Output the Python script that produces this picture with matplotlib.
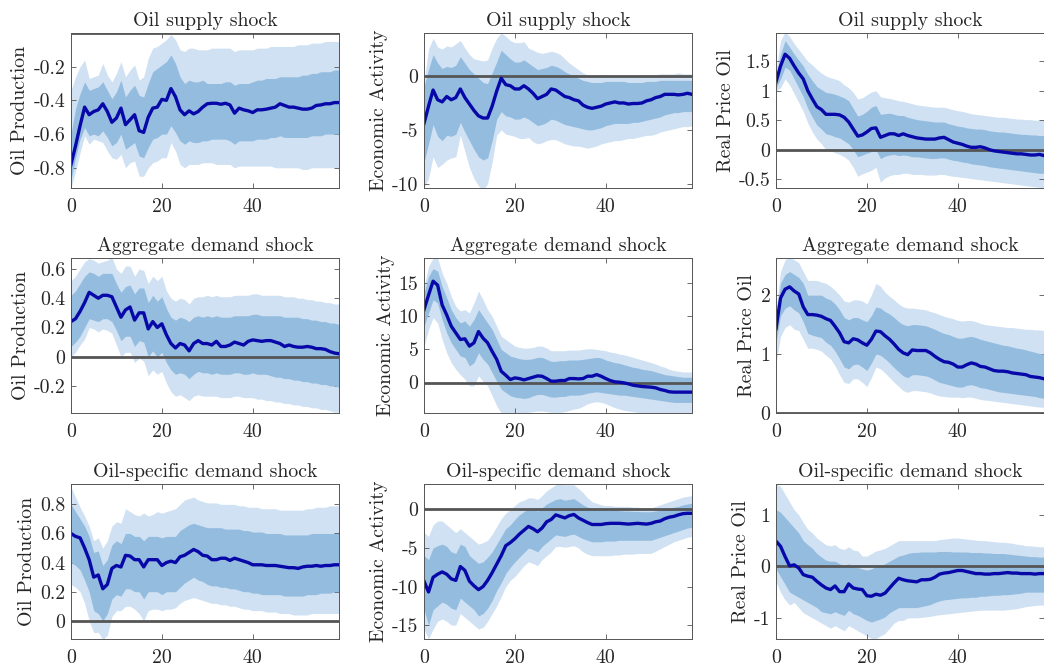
import numpy as np
import matplotlib
matplotlib.use("Agg")
import matplotlib.pyplot as plt
from matplotlib.ticker import FuncFormatter

plt.rcParams["font.family"] = "cmr10"
plt.rcParams["mathtext.fontset"] = "cm"
plt.rcParams["axes.unicode_minus"] = False

horizon = np.arange(60)

shocks = ["Oil supply shock", "Aggregate demand shock", "Oil-specific demand shock"]
variables = ["Oil Production", "Economic Activity", "Real Price Oil"]

# ---- Oil supply shock -> Oil Production
sup_prod_med = [-0.78, -0.67, -0.55, -0.44, -0.485, -0.466, -0.456, -0.42, -0.466, -0.53,
                -0.505, -0.446, -0.544, -0.515, -0.485, -0.58, -0.59, -0.50, -0.446, -0.44,
                -0.394, -0.40, -0.33, -0.378, -0.456, -0.485, -0.462, -0.48, -0.466, -0.44,
                -0.42, -0.417, -0.417, -0.423, -0.417, -0.427, -0.476, -0.446, -0.456, -0.462,
                -0.472, -0.456, -0.456, -0.452, -0.446, -0.44, -0.42, -0.43, -0.44, -0.44,
                -0.446, -0.452, -0.452, -0.446, -0.43, -0.427, -0.42, -0.42, -0.413, -0.413]
sup_prod_in_hi = [-0.60, -0.45, -0.36, -0.29, -0.34, -0.33, -0.32, -0.29, -0.34, -0.39,
                  -0.35, -0.28, -0.38, -0.34, -0.31, -0.37, -0.38, -0.30, -0.23, -0.21,
                  -0.19, -0.17, -0.13, -0.18, -0.26, -0.30, -0.28, -0.29, -0.29, -0.28,
                  -0.30, -0.30, -0.30, -0.30, -0.29, -0.29, -0.31, -0.30, -0.30, -0.30,
                  -0.29, -0.28, -0.28, -0.27, -0.27, -0.27, -0.26, -0.26, -0.26, -0.26,
                  -0.26, -0.25, -0.25, -0.24, -0.24, -0.23, -0.23, -0.23, -0.22, -0.22]
sup_prod_in_lo = [-0.87, -0.74, -0.63, -0.56, -0.61, -0.60, -0.61, -0.58, -0.62, -0.67,
                  -0.65, -0.60, -0.69, -0.67, -0.65, -0.73, -0.74, -0.68, -0.63, -0.62,
                  -0.60, -0.60, -0.55, -0.59, -0.64, -0.66, -0.64, -0.65, -0.65, -0.64,
                  -0.64, -0.63, -0.63, -0.63, -0.63, -0.64, -0.66, -0.64, -0.64, -0.64,
                  -0.64, -0.63, -0.63, -0.63, -0.62, -0.62, -0.61, -0.62, -0.62, -0.62,
                  -0.62, -0.62, -0.62, -0.61, -0.61, -0.61, -0.60, -0.60, -0.60, -0.60]
sup_prod_out_hi = [-0.34, -0.26, -0.20, -0.16, -0.27, -0.26, -0.25, -0.18, -0.25, -0.29,
                   -0.24, -0.17, -0.26, -0.22, -0.19, -0.28, -0.26, -0.15, -0.09, -0.08,
                   -0.06, -0.04, -0.01, -0.04, -0.10, -0.11, -0.09, -0.09, -0.10, -0.10,
                   -0.10, -0.09, -0.09, -0.09, -0.09, -0.09, -0.11, -0.10, -0.10, -0.10,
                   -0.10, -0.09, -0.09, -0.09, -0.08, -0.08, -0.08, -0.08, -0.08, -0.08,
                   -0.07, -0.07, -0.07, -0.06, -0.06, -0.06, -0.05, -0.05, -0.05, -0.05]
sup_prod_out_lo = [-0.92, -0.82, -0.71, -0.61, -0.66, -0.63, -0.64, -0.65, -0.70, -0.74,
                   -0.75, -0.72, -0.80, -0.77, -0.76, -0.85, -0.85, -0.80, -0.77, -0.76,
                   -0.74, -0.74, -0.65, -0.70, -0.78, -0.80, -0.78, -0.78, -0.78, -0.77,
                   -0.77, -0.77, -0.78, -0.78, -0.78, -0.78, -0.80, -0.79, -0.79, -0.79,
                   -0.79, -0.79, -0.79, -0.79, -0.79, -0.80, -0.80, -0.80, -0.80, -0.80,
                   -0.80, -0.81, -0.81, -0.80, -0.80, -0.80, -0.80, -0.80, -0.80, -0.80]

# ---- Oil supply shock -> Economic Activity
sup_act_med = [-4.4, -2.8, -1.3, -2.2, -2.4, -1.9, -2.2, -2.0, -1.2, -2.0,
               -2.6, -3.2, -3.7, -3.9, -3.9, -2.8, -1.4, -0.2, -0.8, -0.9,
               -1.2, -1.2, -0.9, -1.2, -1.6, -2.1, -1.9, -1.7, -1.2, -1.3,
               -1.6, -1.9, -2.0, -2.2, -2.3, -2.7, -2.9, -3.0, -2.9, -2.8,
               -2.6, -2.5, -2.4, -2.5, -2.5, -2.6, -2.55, -2.55, -2.5, -2.3,
               -2.2, -2.0, -1.9, -1.7, -1.7, -1.7, -1.75, -1.7, -1.6, -1.7]
sup_act_in_hi = [-1.0, 0.6, 2.0, 1.2, 0.7, 0.9, 0.8, 1.0, 1.8, 1.2,
                 0.6, 0.2, -0.2, -0.6, -0.7, 0.3, 1.3, 2.4, 2.0, 1.6,
                 1.3, 1.3, 1.5, 1.2, 0.9, 0.6, 0.7, 0.8, 1.0, 0.9,
                 0.7, 0.4, 0.2, 0.0, -0.2, -0.4, -0.5, -0.6, -0.6, -0.6,
                 -0.5, -0.5, -0.5, -0.5, -0.5, -0.6, -0.6, -0.6, -0.6, -0.5,
                 -0.5, -0.5, -0.4, -0.4, -0.4, -0.4, -0.4, -0.4, -0.4, -0.4]
sup_act_in_lo = [-8.0, -6.3, -4.5, -5.6, -6.0, -5.5, -5.6, -5.4, -4.3, -5.2,
                 -6.0, -6.8, -7.5, -7.8, -7.6, -6.0, -4.0, -3.3, -3.7, -3.8,
                 -4.0, -4.0, -3.8, -4.0, -4.3, -4.6, -4.5, -4.3, -4.0, -4.1,
                 -4.3, -4.5, -4.6, -4.7, -4.8, -4.9, -5.0, -5.0, -4.9, -4.8,
                 -4.6, -4.5, -4.4, -4.4, -4.4, -4.4, -4.3, -4.3, -4.2, -4.1,
                 -4.0, -3.9, -3.8, -3.6, -3.5, -3.4, -3.4, -3.3, -3.3, -3.3]
sup_act_out_hi = [-0.5, 2.5, 3.5, 2.7, 2.5, 2.8, 2.7, 3.0, 3.3, 2.6,
                  2.0, 1.6, 1.5, 1.4, 1.5, 2.6, 3.5, 4.0, 3.7, 3.3,
                  3.1, 3.1, 3.2, 2.6, 2.4, 2.2, 2.1, 2.2, 2.3, 2.2,
                  2.0, 1.6, 1.2, 0.9, 0.6, 0.3, 0.1, 0.0, 0.0, 0.1,
                  0.1, 0.1, 0.0, 0.0, 0.0, 0.0, 0.0, 0.1, 0.1, 0.1,
                  0.1, 0.1, 0.2, 0.2, 0.2, 0.2, 0.3, 0.2, 0.2, 0.2]
sup_act_out_lo = [-10.4, -9.5, -7.5, -8.5, -8.2, -7.8, -7.6, -7.5, -5.5, -7.0,
                  -8.5, -9.5, -10.2, -10.6, -10.0, -8.0, -5.5, -5.0, -5.4, -5.5,
                  -5.6, -5.8, -5.8, -5.7, -6.1, -6.3, -6.2, -6.0, -5.9, -5.9,
                  -6.1, -6.3, -6.4, -6.5, -6.5, -6.6, -6.7, -6.6, -6.5, -6.3,
                  -6.2, -6.1, -6.0, -6.0, -5.9, -5.8, -5.8, -5.7, -5.6, -5.5,
                  -5.5, -5.4, -5.2, -5.1, -5.0, -4.9, -4.8, -4.7, -4.7, -4.6]

# ---- Oil supply shock -> Real Price Oil
sup_price_med = [1.15, 1.42, 1.62, 1.55, 1.42, 1.30, 1.20, 1.00, 0.86, 0.73,
                 0.68, 0.60, 0.60, 0.60, 0.59, 0.55, 0.47, 0.35, 0.23, 0.25,
                 0.30, 0.36, 0.37, 0.21, 0.24, 0.27, 0.27, 0.24, 0.27, 0.24,
                 0.22, 0.20, 0.19, 0.18, 0.18, 0.18, 0.20, 0.21, 0.17, 0.13,
                 0.11, 0.09, 0.06, 0.04, 0.04, 0.05, 0.03, 0.00, -0.02, -0.03,
                 -0.04, -0.05, -0.06, -0.07, -0.07, -0.08, -0.09, -0.09, -0.08, -0.10]
sup_price_in_hi = [1.25, 1.62, 1.85, 1.74, 1.62, 1.52, 1.42, 1.28, 1.17, 1.07,
                   1.02, 0.97, 0.96, 0.94, 0.91, 0.88, 0.83, 0.70, 0.57, 0.60,
                   0.65, 0.72, 0.75, 0.60, 0.61, 0.62, 0.60, 0.58, 0.58, 0.55,
                   0.53, 0.51, 0.50, 0.49, 0.48, 0.47, 0.47, 0.47, 0.44, 0.42,
                   0.40, 0.39, 0.37, 0.36, 0.35, 0.35, 0.34, 0.32, 0.31, 0.30,
                   0.30, 0.29, 0.28, 0.27, 0.26, 0.26, 0.25, 0.25, 0.24, 0.24]
sup_price_in_lo = [1.05, 1.20, 1.40, 1.35, 1.20, 1.05, 0.90, 0.70, 0.55, 0.42,
                   0.35, 0.27, 0.25, 0.22, 0.20, 0.15, 0.10, 0.00, -0.12, -0.09,
                   -0.06, -0.03, 0.00, -0.15, -0.11, -0.09, -0.08, -0.10, -0.09, -0.10,
                   -0.12, -0.12, -0.13, -0.14, -0.15, -0.15, -0.14, -0.14, -0.16, -0.18,
                   -0.19, -0.21, -0.22, -0.24, -0.25, -0.26, -0.27, -0.29, -0.30, -0.31,
                   -0.32, -0.33, -0.34, -0.35, -0.36, -0.37, -0.38, -0.39, -0.40, -0.40]
sup_price_out_hi = [1.35, 1.85, 2.00, 1.92, 1.80, 1.70, 1.60, 1.50, 1.44, 1.36,
                    1.30, 1.25, 1.22, 1.20, 1.17, 1.10, 1.05, 0.97, 0.86, 0.88,
                    0.93, 0.98, 1.00, 0.90, 0.88, 0.87, 0.85, 0.83, 0.82, 0.80,
                    0.78, 0.76, 0.75, 0.74, 0.73, 0.72, 0.72, 0.72, 0.70, 0.68,
                    0.66, 0.65, 0.63, 0.61, 0.60, 0.59, 0.58, 0.57, 0.56, 0.55,
                    0.55, 0.54, 0.53, 0.52, 0.52, 0.51, 0.51, 0.50, 0.50, 0.50]
sup_price_out_lo = [1.00, 1.05, 1.20, 1.10, 0.95, 0.80, 0.65, 0.45, 0.30, 0.18,
                    0.10, 0.00, -0.02, -0.05, -0.08, -0.12, -0.18, -0.30, -0.45, -0.41,
                    -0.38, -0.35, -0.30, -0.55, -0.48, -0.44, -0.42, -0.42, -0.40, -0.40,
                    -0.42, -0.42, -0.42, -0.43, -0.43, -0.43, -0.42, -0.42, -0.44, -0.45,
                    -0.46, -0.47, -0.48, -0.49, -0.50, -0.51, -0.52, -0.53, -0.54, -0.55,
                    -0.56, -0.57, -0.58, -0.59, -0.60, -0.61, -0.62, -0.63, -0.64, -0.65]

# ---- Aggregate demand shock -> Oil Production
agg_prod_med = [0.24, 0.26, 0.31, 0.37, 0.44, 0.42, 0.40, 0.42, 0.42, 0.41,
                0.34, 0.27, 0.32, 0.34, 0.25, 0.30, 0.30, 0.19, 0.24, 0.20,
                0.225, 0.15, 0.09, 0.06, 0.09, 0.08, 0.04, 0.09, 0.11, 0.09,
                0.09, 0.08, 0.105, 0.07, 0.07, 0.08, 0.10, 0.09, 0.08, 0.105,
                0.115, 0.11, 0.105, 0.11, 0.11, 0.10, 0.09, 0.07, 0.08, 0.07,
                0.065, 0.065, 0.07, 0.065, 0.055, 0.055, 0.05, 0.035, 0.025, 0.02]
agg_prod_in_hi = [0.42, 0.45, 0.50, 0.55, 0.58, 0.57, 0.55, 0.57, 0.57, 0.57,
                  0.50, 0.44, 0.48, 0.49, 0.43, 0.47, 0.47, 0.37, 0.42, 0.38,
                  0.41, 0.33, 0.27, 0.25, 0.27, 0.26, 0.24, 0.27, 0.28, 0.27,
                  0.28, 0.27, 0.28, 0.27, 0.27, 0.27, 0.28, 0.28, 0.28, 0.28,
                  0.29, 0.29, 0.28, 0.28, 0.28, 0.28, 0.28, 0.27, 0.27, 0.27,
                  0.27, 0.26, 0.26, 0.25, 0.25, 0.24, 0.24, 0.23, 0.23, 0.22]
agg_prod_in_lo = [0.07, 0.10, 0.14, 0.20, 0.26, 0.25, 0.24, 0.26, 0.26, 0.24,
                  0.18, 0.11, 0.14, 0.14, 0.07, 0.11, 0.10, 0.00, 0.04, 0.00,
                  0.03, -0.04, -0.09, -0.12, -0.11, -0.12, -0.15, -0.12, -0.10, -0.11,
                  -0.11, -0.12, -0.11, -0.12, -0.12, -0.12, -0.11, -0.11, -0.12, -0.12,
                  -0.11, -0.12, -0.12, -0.12, -0.13, -0.14, -0.14, -0.15, -0.15, -0.16,
                  -0.16, -0.17, -0.17, -0.18, -0.18, -0.19, -0.19, -0.20, -0.20, -0.21]
agg_prod_out_hi = [0.52, 0.55, 0.60, 0.65, 0.67, 0.66, 0.64, 0.65, 0.66, 0.68,
                   0.60, 0.57, 0.62, 0.62, 0.55, 0.60, 0.59, 0.50, 0.55, 0.52,
                   0.55, 0.45, 0.40, 0.38, 0.40, 0.39, 0.36, 0.40, 0.41, 0.41,
                   0.42, 0.41, 0.42, 0.41, 0.41, 0.41, 0.42, 0.42, 0.42, 0.42,
                   0.43, 0.43, 0.42, 0.42, 0.42, 0.42, 0.42, 0.41, 0.41, 0.41,
                   0.40, 0.40, 0.39, 0.39, 0.38, 0.38, 0.37, 0.37, 0.36, 0.36]
agg_prod_out_lo = [0.00, 0.03, 0.08, 0.12, 0.20, 0.19, 0.17, 0.19, 0.18, 0.16,
                   0.08, 0.00, 0.03, 0.03, -0.04, -0.01, -0.03, -0.13, -0.09, -0.12,
                   -0.10, -0.18, -0.24, -0.27, -0.26, -0.28, -0.30, -0.27, -0.26, -0.27,
                   -0.27, -0.27, -0.27, -0.28, -0.28, -0.28, -0.27, -0.27, -0.28, -0.28,
                   -0.28, -0.29, -0.29, -0.30, -0.30, -0.31, -0.31, -0.32, -0.32, -0.33,
                   -0.33, -0.34, -0.34, -0.35, -0.35, -0.36, -0.36, -0.37, -0.38, -0.38]

# ---- Aggregate demand shock -> Economic Activity
agg_act_med = [11.0, 13.2, 15.3, 14.7, 11.7, 10.2, 8.5, 7.5, 6.5, 6.6,
               5.5, 6.0, 7.7, 6.7, 6.0, 4.7, 3.5, 1.7, 1.1, 0.45,
               0.7, 0.6, 0.4, 0.6, 0.8, 1.0, 0.95, 0.6, 0.2, 0.2,
               0.3, 0.3, 0.6, 0.6, 0.55, 0.6, 0.95, 0.95, 1.2, 0.95,
               0.6, 0.3, 0.1, 0.05, -0.05, -0.2, -0.4, -0.5, -0.6, -0.65,
               -0.7, -0.8, -1.05, -1.2, -1.4, -1.45, -1.45, -1.45, -1.45, -1.45]
agg_act_in_hi = [13.5, 16.0, 17.2, 16.8, 14.5, 12.8, 11.0, 9.8, 9.0, 9.3,
                 8.5, 9.5, 11.0, 10.0, 9.0, 8.0, 6.5, 5.0, 4.5, 4.0,
                 3.8, 3.6, 3.5, 3.5, 3.6, 3.8, 3.8, 3.5, 3.2, 3.2,
                 3.3, 3.3, 3.4, 3.4, 3.4, 3.5, 3.6, 3.7, 3.8, 3.7,
                 3.4, 3.2, 3.0, 2.9, 2.7, 2.5, 2.3, 2.2, 2.0, 1.9,
                 1.8, 1.6, 1.4, 1.2, 1.1, 1.0, 0.9, 0.8, 0.8, 0.8]
agg_act_in_lo = [8.5, 10.5, 12.5, 12.0, 9.5, 7.5, 6.0, 5.0, 4.0, 3.8,
                 2.5, 3.0, 4.5, 3.5, 2.8, 1.5, 0.2, -1.0, -1.5, -2.0,
                 -2.2, -2.3, -2.4, -2.3, -2.0, -1.8, -1.8, -2.0, -2.2, -2.2,
                 -2.1, -2.1, -1.9, -1.9, -1.9, -1.8, -1.6, -1.5, -1.4, -1.5,
                 -1.6, -1.7, -1.8, -1.9, -1.9, -2.0, -2.1, -2.2, -2.3, -2.4,
                 -2.5, -2.6, -2.7, -2.8, -2.9, -3.0, -3.0, -3.0, -3.0, -3.0]
agg_act_out_hi = [14.5, 17.5, 18.8, 18.8, 16.5, 15.0, 13.0, 11.5, 10.8, 11.0,
                  10.5, 12.0, 13.8, 12.5, 11.0, 10.0, 8.5, 7.0, 6.5, 6.0,
                  5.5, 5.3, 5.2, 5.2, 5.3, 5.5, 5.5, 5.2, 4.8, 4.8,
                  4.8, 4.8, 4.9, 4.9, 4.9, 5.0, 5.1, 5.1, 5.0, 4.9,
                  4.8, 4.6, 4.5, 4.3, 4.2, 4.0, 3.8, 3.6, 3.4, 3.2,
                  3.0, 2.8, 2.5, 2.3, 2.0, 1.8, 1.7, 1.6, 1.6, 1.6]
agg_act_out_lo = [5.5, 8.0, 9.8, 9.0, 6.5, 4.5, 3.0, 2.0, 1.2, 0.5,
                  -0.5, -0.5, 1.0, 0.2, -0.5, -2.0, -3.5, -4.6, -4.6, -4.6,
                  -4.6, -4.6, -4.6, -4.5, -4.4, -4.3, -4.3, -4.4, -4.5, -4.5,
                  -4.5, -4.4, -4.2, -4.0, -3.9, -3.6, -3.2, -3.0, -2.9, -3.0,
                  -3.2, -3.5, -3.8, -4.0, -4.2, -4.3, -4.4, -4.5, -4.6, -4.6,
                  -4.6, -4.6, -4.6, -4.6, -4.6, -4.6, -4.6, -4.6, -4.6, -4.6]

# ---- Aggregate demand shock -> Real Price Oil
agg_price_med = [1.43, 1.95, 2.10, 2.14, 2.07, 2.02, 1.80, 1.67, 1.67, 1.66,
                 1.64, 1.60, 1.57, 1.47, 1.36, 1.21, 1.19, 1.26, 1.24, 1.19,
                 1.15, 1.25, 1.39, 1.38, 1.31, 1.25, 1.17, 1.08, 1.02, 0.99,
                 1.07, 1.06, 1.06, 1.06, 1.02, 0.96, 0.91, 0.87, 0.86, 0.83,
                 0.78, 0.78, 0.82, 0.85, 0.83, 0.79, 0.78, 0.75, 0.72, 0.71,
                 0.71, 0.70, 0.68, 0.67, 0.66, 0.65, 0.62, 0.61, 0.60, 0.58]
agg_price_in_hi = [1.60, 2.20, 2.35, 2.40, 2.35, 2.30, 2.20, 2.00, 2.00, 2.00,
                   2.00, 1.95, 1.92, 1.85, 1.75, 1.62, 1.58, 1.62, 1.62, 1.58,
                   1.55, 1.65, 1.80, 1.78, 1.72, 1.68, 1.62, 1.55, 1.50, 1.48,
                   1.50, 1.50, 1.49, 1.48, 1.45, 1.42, 1.38, 1.35, 1.33, 1.30,
                   1.27, 1.27, 1.29, 1.30, 1.28, 1.25, 1.23, 1.21, 1.19, 1.17,
                   1.15, 1.14, 1.12, 1.10, 1.09, 1.07, 1.05, 1.03, 1.01, 1.00]
agg_price_in_lo = [1.20, 1.65, 1.78, 1.82, 1.75, 1.70, 1.55, 1.35, 1.32, 1.30,
                   1.28, 1.20, 1.15, 1.05, 0.92, 0.78, 0.75, 0.82, 0.83, 0.78,
                   0.72, 0.85, 1.00, 0.98, 0.92, 0.85, 0.77, 0.70, 0.63, 0.60,
                   0.65, 0.65, 0.64, 0.63, 0.60, 0.56, 0.52, 0.50, 0.48, 0.46,
                   0.44, 0.44, 0.47, 0.48, 0.46, 0.43, 0.42, 0.40, 0.38, 0.36,
                   0.35, 0.34, 0.33, 0.32, 0.31, 0.30, 0.29, 0.28, 0.26, 0.25]
agg_price_out_hi = [1.75, 2.40, 2.60, 2.65, 2.60, 2.55, 2.40, 2.25, 2.25, 2.25,
                    2.22, 2.20, 2.15, 2.08, 2.00, 1.90, 1.88, 1.92, 1.92, 1.90,
                    1.85, 2.00, 2.20, 2.15, 2.05, 1.98, 1.92, 1.85, 1.80, 1.78,
                    1.78, 1.77, 1.76, 1.75, 1.72, 1.70, 1.67, 1.64, 1.62, 1.60,
                    1.57, 1.56, 1.57, 1.57, 1.55, 1.52, 1.50, 1.49, 1.48, 1.47,
                    1.46, 1.45, 1.45, 1.44, 1.43, 1.42, 1.42, 1.41, 1.41, 1.40]
agg_price_out_lo = [0.85, 1.30, 1.45, 1.50, 1.42, 1.40, 1.25, 1.10, 1.10, 1.08,
                    1.05, 0.98, 0.92, 0.80, 0.65, 0.52, 0.50, 0.58, 0.58, 0.52,
                    0.45, 0.60, 0.78, 0.75, 0.68, 0.60, 0.52, 0.45, 0.38, 0.35,
                    0.38, 0.38, 0.37, 0.36, 0.34, 0.31, 0.29, 0.28, 0.27, 0.27,
                    0.27, 0.26, 0.27, 0.27, 0.25, 0.23, 0.22, 0.21, 0.20, 0.19,
                    0.18, 0.17, 0.16, 0.15, 0.14, 0.13, 0.12, 0.11, 0.10, 0.10]

# ---- Oil-specific demand shock -> Oil Production
spec_prod_med = [0.60, 0.58, 0.57, 0.50, 0.42, 0.30, 0.315, 0.22, 0.25, 0.36,
                 0.38, 0.37, 0.45, 0.445, 0.42, 0.42, 0.37, 0.42, 0.42, 0.42,
                 0.38, 0.40, 0.41, 0.40, 0.44, 0.45, 0.47, 0.49, 0.475, 0.45,
                 0.445, 0.42, 0.42, 0.43, 0.43, 0.415, 0.43, 0.42, 0.41, 0.40,
                 0.385, 0.385, 0.385, 0.38, 0.38, 0.38, 0.375, 0.37, 0.365, 0.365,
                 0.36, 0.37, 0.375, 0.375, 0.38, 0.375, 0.38, 0.38, 0.385, 0.385]
spec_prod_in_hi = [0.80, 0.75, 0.70, 0.65, 0.58, 0.47, 0.48, 0.38, 0.42, 0.52,
                   0.55, 0.53, 0.60, 0.60, 0.58, 0.58, 0.55, 0.58, 0.58, 0.58,
                   0.57, 0.58, 0.58, 0.58, 0.62, 0.64, 0.66, 0.67, 0.66, 0.65,
                   0.64, 0.64, 0.64, 0.64, 0.63, 0.63, 0.63, 0.63, 0.62, 0.62,
                   0.61, 0.61, 0.61, 0.60, 0.60, 0.60, 0.60, 0.59, 0.59, 0.59,
                   0.59, 0.59, 0.59, 0.60, 0.60, 0.60, 0.60, 0.60, 0.60, 0.60]
spec_prod_in_lo = [0.40, 0.38, 0.35, 0.28, 0.20, 0.07, 0.05, 0.00, 0.05, 0.15,
                   0.18, 0.17, 0.22, 0.22, 0.20, 0.20, 0.15, 0.20, 0.20, 0.20,
                   0.18, 0.20, 0.20, 0.20, 0.23, 0.26, 0.28, 0.30, 0.28, 0.27,
                   0.25, 0.24, 0.24, 0.23, 0.23, 0.22, 0.22, 0.21, 0.20, 0.20,
                   0.19, 0.19, 0.18, 0.18, 0.18, 0.18, 0.18, 0.17, 0.17, 0.17,
                   0.17, 0.17, 0.18, 0.18, 0.18, 0.19, 0.19, 0.19, 0.20, 0.20]
spec_prod_out_hi = [0.92, 0.85, 0.78, 0.72, 0.65, 0.55, 0.57, 0.50, 0.55, 0.65,
                    0.68, 0.67, 0.77, 0.75, 0.73, 0.72, 0.74, 0.72, 0.73, 0.75,
                    0.74, 0.75, 0.76, 0.77, 0.80, 0.83, 0.84, 0.85, 0.83, 0.82,
                    0.81, 0.81, 0.81, 0.80, 0.80, 0.80, 0.80, 0.79, 0.79, 0.78,
                    0.78, 0.78, 0.77, 0.77, 0.77, 0.77, 0.76, 0.76, 0.76, 0.76,
                    0.76, 0.76, 0.77, 0.77, 0.78, 0.78, 0.78, 0.79, 0.79, 0.79]
spec_prod_out_lo = [0.25, 0.23, 0.20, 0.12, 0.00, -0.08, -0.08, -0.13, -0.10, 0.03,
                    0.07, 0.07, 0.10, 0.10, 0.08, 0.05, 0.00, 0.07, 0.08, 0.08,
                    0.07, 0.08, 0.08, 0.09, 0.12, 0.14, 0.15, 0.16, 0.15, 0.14,
                    0.13, 0.12, 0.12, 0.11, 0.11, 0.10, 0.10, 0.09, 0.08, 0.08,
                    0.07, 0.07, 0.07, 0.06, 0.06, 0.06, 0.05, 0.05, 0.05, 0.04,
                    0.04, 0.04, 0.04, 0.05, 0.05, 0.05, 0.05, 0.05, 0.05, 0.05]

# ---- Oil-specific demand shock -> Economic Activity
spec_act_med = [-9.3, -10.7, -8.8, -8.4, -8.1, -8.4, -9.0, -9.2, -7.4, -7.9,
                -9.3, -9.9, -10.4, -10.0, -9.2, -8.2, -7.1, -6.0, -4.7, -4.3,
                -3.8, -3.2, -2.7, -2.2, -2.5, -2.9, -2.4, -1.6, -1.3, -0.7,
                -0.9, -1.1, -0.8, -0.65, -1.1, -1.4, -1.7, -1.95, -1.95, -1.95,
                -1.85, -1.8, -1.8, -1.8, -1.85, -1.9, -1.85, -1.8, -1.85, -1.9,
                -1.8, -1.6, -1.5, -1.2, -1.0, -0.9, -0.7, -0.55, -0.5, -0.5]
spec_act_in_hi = [-6.0, -6.5, -5.0, -4.7, -4.5, -4.8, -5.5, -5.7, -4.5, -4.8,
                  -6.0, -6.5, -7.0, -6.8, -6.2, -5.5, -4.5, -3.5, -2.5, -2.0,
                  -1.3, -0.7, -0.3, 0.2, 0.0, -0.2, 0.2, 0.7, 1.0, 1.3,
                  1.4, 1.2, 1.3, 1.4, 1.0, 0.6, 0.3, 0.0, -0.1, -0.1,
                  -0.05, -0.1, -0.1, -0.15, -0.2, -0.2, -0.25, -0.25, -0.3, -0.3,
                  -0.3, -0.2, -0.1, 0.0, 0.1, 0.3, 0.4, 0.6, 0.7, 0.8]
spec_act_in_lo = [-13.0, -15.0, -13.0, -12.5, -12.0, -12.3, -12.8, -13.0, -11.5, -12.0,
                  -12.5, -13.0, -13.8, -13.5, -12.8, -11.8, -10.5, -9.5, -8.3, -7.5,
                  -6.8, -6.2, -5.6, -5.0, -5.2, -5.5, -4.8, -4.3, -3.8, -3.3,
                  -3.4, -3.5, -3.3, -3.2, -3.5, -3.8, -4.0, -4.2, -4.2, -4.2,
                  -4.1, -4.1, -4.1, -4.0, -4.0, -4.0, -4.0, -4.0, -4.0, -4.0,
                  -4.0, -3.8, -3.6, -3.4, -3.2, -3.0, -2.8, -2.6, -2.4, -2.3]
spec_act_out_hi = [-3.0, -3.5, -2.0, -1.5, -1.5, -2.0, -2.5, -3.0, -2.5, -3.0,
                   -3.5, -4.0, -4.5, -4.3, -4.0, -3.2, -2.2, -1.2, -0.5, 0.0,
                   0.5, 1.0, 1.2, 1.5, 1.5, 1.3, 1.8, 2.4, 2.8, 3.2,
                   3.3, 3.2, 3.2, 3.2, 2.7, 2.2, 1.5, 1.0, 0.8, 0.6,
                   0.5, 0.5, 0.4, 0.4, 0.4, 0.4, 0.3, 0.3, 0.2, 0.2,
                   0.2, 0.4, 0.6, 0.8, 1.0, 1.2, 1.4, 1.6, 1.7, 1.8]
spec_act_out_lo = [-15.5, -16.8, -15.5, -14.5, -14.2, -14.5, -15.0, -15.0, -13.5, -14.0,
                   -14.5, -15.0, -15.5, -15.3, -14.5, -13.5, -12.5, -11.3, -10.0, -9.2,
                   -8.7, -8.0, -7.3, -6.8, -7.0, -7.3, -6.5, -6.0, -5.5, -4.8,
                   -4.8, -4.9, -4.8, -4.7, -5.0, -5.5, -5.8, -6.0, -6.0, -6.0,
                   -6.0, -6.0, -5.9, -5.9, -5.8, -5.8, -5.8, -5.7, -5.7, -5.7,
                   -5.7, -5.4, -5.1, -4.8, -4.5, -4.2, -4.0, -3.8, -3.6, -3.5]

# ---- Oil-specific demand shock -> Real Price Oil
spec_price_med = [0.49, 0.39, 0.19, 0.01, 0.03, -0.03, -0.16, -0.19, -0.21, -0.29,
                  -0.36, -0.42, -0.45, -0.38, -0.49, -0.49, -0.34, -0.42, -0.44, -0.45,
                  -0.57, -0.58, -0.54, -0.56, -0.52, -0.42, -0.32, -0.23, -0.26, -0.28,
                  -0.29, -0.30, -0.26, -0.26, -0.25, -0.21, -0.15, -0.13, -0.12, -0.10,
                  -0.08, -0.08, -0.10, -0.12, -0.14, -0.14, -0.15, -0.15, -0.14, -0.14,
                  -0.13, -0.12, -0.13, -0.13, -0.14, -0.14, -0.14, -0.15, -0.14, -0.14]
spec_price_in_hi = [1.10, 1.05, 0.95, 0.85, 0.75, 0.65, 0.50, 0.42, 0.35, 0.25,
                    0.18, 0.12, 0.10, 0.10, 0.05, 0.02, 0.05, 0.00, -0.02, -0.05,
                    -0.07, -0.05, 0.00, 0.02, 0.05, 0.10, 0.15, 0.20, 0.22, 0.25,
                    0.27, 0.27, 0.28, 0.28, 0.28, 0.28, 0.29, 0.29, 0.29, 0.28,
                    0.28, 0.28, 0.28, 0.27, 0.27, 0.27, 0.26, 0.26, 0.25, 0.25,
                    0.25, 0.24, 0.23, 0.22, 0.21, 0.20, 0.19, 0.19, 0.18, 0.18]
spec_price_in_lo = [-0.05, -0.20, -0.35, -0.50, -0.55, -0.60, -0.65, -0.70, -0.75, -0.80,
                    -0.88, -0.90, -0.92, -0.88, -0.92, -0.95, -0.85, -0.92, -0.95, -1.00,
                    -1.05, -1.08, -1.05, -1.02, -0.98, -0.90, -0.85, -0.80, -0.80, -0.80,
                    -0.80, -0.80, -0.78, -0.76, -0.74, -0.70, -0.67, -0.65, -0.64, -0.63,
                    -0.62, -0.61, -0.61, -0.60, -0.60, -0.58, -0.58, -0.57, -0.56, -0.56,
                    -0.55, -0.55, -0.54, -0.53, -0.52, -0.50, -0.50, -0.50, -0.50, -0.50]
spec_price_out_hi = [1.60, 1.55, 1.40, 1.25, 1.10, 1.00, 0.85, 0.72, 0.65, 0.55,
                     0.48, 0.42, 0.40, 0.42, 0.35, 0.33, 0.38, 0.32, 0.30, 0.20,
                     0.20, 0.25, 0.30, 0.32, 0.35, 0.40, 0.45, 0.50, 0.50, 0.50,
                     0.50, 0.50, 0.50, 0.50, 0.50, 0.50, 0.52, 0.53, 0.54, 0.55,
                     0.55, 0.54, 0.53, 0.52, 0.51, 0.50, 0.50, 0.49, 0.48, 0.47,
                     0.47, 0.46, 0.45, 0.43, 0.42, 0.40, 0.40, 0.39, 0.38, 0.38]
spec_price_out_lo = [-0.30, -0.50, -0.65, -0.75, -0.70, -0.80, -0.90, -0.95, -1.00, -1.05,
                     -1.10, -1.15, -1.20, -1.15, -1.20, -1.25, -1.15, -1.20, -1.25, -1.30,
                     -1.35, -1.40, -1.40, -1.35, -1.30, -1.20, -1.10, -1.05, -1.05, -1.00,
                     -1.00, -1.00, -0.99, -0.98, -0.97, -0.95, -0.94, -0.93, -0.92, -0.91,
                     -0.90, -0.89, -0.88, -0.87, -0.86, -0.85, -0.85, -0.85, -0.85, -0.85,
                     -0.85, -0.84, -0.83, -0.82, -0.80, -0.78, -0.77, -0.76, -0.75, -0.75]

# y-axis ranges and ticks, row = shock, column = variable
y_limits = [
    [(-0.92, 0.0), (-10.4, 4.0), (-0.65, 1.98)],
    [(-0.385, 0.675), (-4.6, 18.8), (0.0, 2.63)],
    [(-0.125, 0.94), (-16.8, 3.3), (-1.41, 1.6)],
]
y_ticks = [
    [[-0.8, -0.6, -0.4, -0.2], [-10, -5, 0], [-0.5, 0, 0.5, 1, 1.5]],
    [[-0.2, 0, 0.2, 0.4, 0.6], [0, 5, 10, 15], [0, 1, 2]],
    [[0, 0.2, 0.4, 0.6, 0.8], [-15, -10, -5, 0], [-1, 0, 1]],
]
x_ticks = [0, 20, 40]

responses = [
    [
        (sup_prod_med, sup_prod_in_lo, sup_prod_in_hi, sup_prod_out_lo, sup_prod_out_hi),
        (sup_act_med, sup_act_in_lo, sup_act_in_hi, sup_act_out_lo, sup_act_out_hi),
        (sup_price_med, sup_price_in_lo, sup_price_in_hi, sup_price_out_lo, sup_price_out_hi),
    ],
    [
        (agg_prod_med, agg_prod_in_lo, agg_prod_in_hi, agg_prod_out_lo, agg_prod_out_hi),
        (agg_act_med, agg_act_in_lo, agg_act_in_hi, agg_act_out_lo, agg_act_out_hi),
        (agg_price_med, agg_price_in_lo, agg_price_in_hi, agg_price_out_lo, agg_price_out_hi),
    ],
    [
        (spec_prod_med, spec_prod_in_lo, spec_prod_in_hi, spec_prod_out_lo, spec_prod_out_hi),
        (spec_act_med, spec_act_in_lo, spec_act_in_hi, spec_act_out_lo, spec_act_out_hi),
        (spec_price_med, spec_price_in_lo, spec_price_in_hi, spec_price_out_lo, spec_price_out_hi),
    ],
]

OUTER = "#cfe1f2"
INNER = "#93bcdf"
MEDIAN = "#0808a8"
ZERO = "#555555"
FRAME = "#555555"
TEXT = "#262626"
FS = 14.3

W, H = 1044, 671
fig = plt.figure(figsize=(W / 100, H / 100), dpi=100)

col_left = [71, 424, 776]
row_top = [33, 258, 484]
ax_w, ax_h = 268, 155

fmt = FuncFormatter(lambda v, pos: f"{v:g}")

for r in range(3):
    for c in range(3):
        ax = fig.add_axes([col_left[c] / W, (H - row_top[r] - ax_h) / H, ax_w / W, ax_h / H])
        med, in_lo, in_hi, out_lo, out_hi = responses[r][c]
        ax.fill_between(horizon, out_lo, out_hi, color=OUTER, lw=0, zorder=1)
        ax.fill_between(horizon, in_lo, in_hi, color=INNER, lw=0, zorder=2)
        ax.axhline(0, color=ZERO, lw=2.0, zorder=3)
        ax.plot(horizon, med, color=MEDIAN, lw=2.4, zorder=4, solid_joinstyle="round")
        ax.set_xlim(0, 59)
        ax.set_ylim(*y_limits[r][c])
        ax.set_xticks(x_ticks)
        ax.set_yticks(y_ticks[r][c])
        ax.xaxis.set_major_formatter(fmt)
        ax.yaxis.set_major_formatter(fmt)
        ax.tick_params(direction="in", length=3.5, width=0.6, color=FRAME,
                       top=True, right=True, labelsize=FS, labelcolor=TEXT)
        ax.tick_params(axis="y", pad=4)
        ax.tick_params(axis="x", pad=7)
        for sp in ax.spines.values():
            sp.set_color(FRAME)
            sp.set_linewidth(0.7)
            sp.set_zorder(5)
        ax.set_title(shocks[r], fontsize=FS, pad=5, color=TEXT)
        ax.set_ylabel(variables[c], fontsize=FS, labelpad=3, color=TEXT)

fig.savefig("out.png", dpi=100)
